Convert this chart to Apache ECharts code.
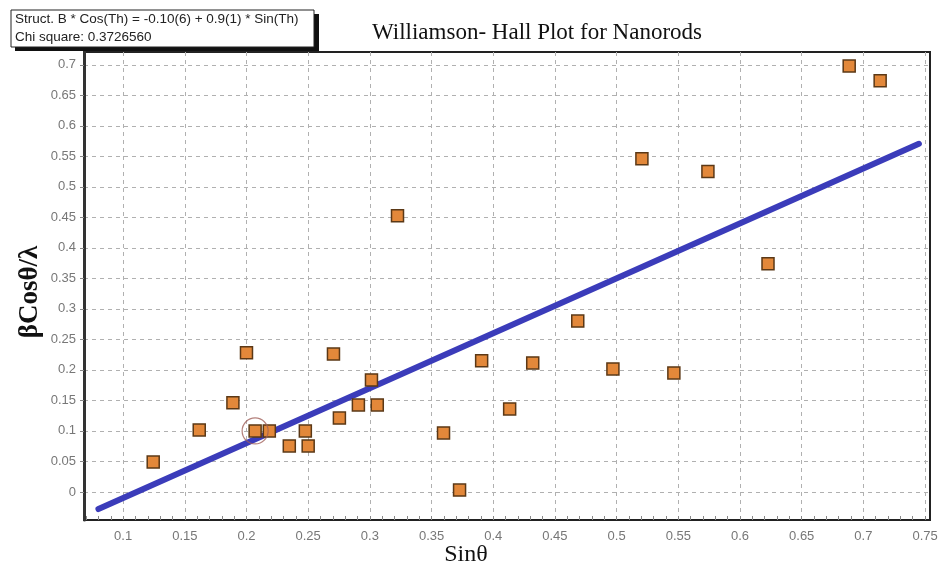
<!DOCTYPE html>
<html>
<head>
<meta charset="utf-8">
<script src="https://cdn.jsdelivr.net/npm/echarts@6/dist/echarts.min.js"></script>
<style>
  html, body { margin: 0; padding: 0; background: #fff; }
  #chart { width: 940px; height: 573px; }
</style>
</head>
<body>
<div id="chart"></div>
<script>
// Measured peaks: sin(theta) and beta*cos(theta)/lambda
const sinTheta = [0.1244, 0.1617, 0.189, 0.2, 0.207, 0.2185, 0.2347, 0.2477, 0.250, 0.2705,
                  0.2753, 0.2907, 0.3013, 0.306, 0.3224, 0.3597, 0.3727, 0.3906, 0.4133, 0.432,
                  0.4685, 0.497, 0.5205, 0.5464, 0.574, 0.6227, 0.6885, 0.7136];
const betaCos = [0.049, 0.1016, 0.146, 0.228, 0.10, 0.10, 0.0754, 0.10, 0.0754, 0.226,
                 0.121, 0.1426, 0.1836, 0.1426, 0.4525, 0.0967, 0.003, 0.2148, 0.136, 0.2115,
                 0.280, 0.2016, 0.546, 0.195, 0.525, 0.374, 0.698, 0.674];
// Highlighted (selected) point
const selX = [0.207];
const selY = [0.10];
// Linear fit endpoints
const fitX = [0.08, 0.745];
const fitY = [-0.028, 0.5705];
// Axis ticks
const xTicks = [0.1, 0.15, 0.2, 0.25, 0.3, 0.35, 0.4, 0.45, 0.5, 0.55, 0.6, 0.65, 0.7, 0.75];
const yTicks = [0, 0.05, 0.1, 0.15, 0.2, 0.25, 0.3, 0.35, 0.4, 0.45, 0.5, 0.55, 0.6, 0.65, 0.7];
const xMinor = [0.07, 0.08, 0.09, 0.1, 0.11, 0.12, 0.13, 0.14, 0.15, 0.16, 0.17, 0.18, 0.19, 0.2,
                0.21, 0.22, 0.23, 0.24, 0.25, 0.26, 0.27, 0.28, 0.29, 0.3, 0.31, 0.32, 0.33, 0.34,
                0.35, 0.36, 0.37, 0.38, 0.39, 0.4, 0.41, 0.42, 0.43, 0.44, 0.45, 0.46, 0.47, 0.48,
                0.49, 0.5, 0.51, 0.52, 0.53, 0.54, 0.55, 0.56, 0.57, 0.58, 0.59, 0.6, 0.61, 0.62,
                0.63, 0.64, 0.65, 0.66, 0.67, 0.68, 0.69, 0.7, 0.71, 0.72, 0.73, 0.74, 0.75];
const xRange = [0.0683, 0.754];
const yRange = [-0.046, 0.721];

const titleText = 'Williamson- Hall Plot for Nanorods';
const xName = 'Sinθ';
const yName = 'βCosθ/λ';
const fitLine1 = 'Struct. B * Cos(Th) = -0.10(6) + 0.9(1) * Sin(Th)';
const fitLine2 = 'Chi square: 0.3726560';

const points = sinTheta.map((x, i) => [x, betaCos[i]]);
const selected = selX.map((x, i) => [x, selY[i]]);
const fit = fitX.map((x, i) => [x, fitY[i]]);

const fmt = v => String(Math.round(v * 1000) / 1000);

const chart = echarts.init(document.getElementById('chart'), null, { renderer: 'canvas' });
chart.setOption({
  backgroundColor: '#ffffff',
  animation: false,
  title: {
    text: titleText,
    left: 532, top: 16, textAlign: 'center',
    textStyle: { fontFamily: 'Liberation Serif', fontSize: 23, fontWeight: 'normal', color: '#111' }
  },
  grid: {
    left: 84, right: 10, top: 52, bottom: 53,
    outerBoundsMode: 'none',
    show: true, borderColor: '#222', borderWidth: 2, backgroundColor: 'transparent'
  },
  xAxis: [{
    type: 'value', min: xRange[0], max: xRange[1],
    axisLine: { show: false },
    axisTick: { show: false, customValues: xTicks },
    axisLabel: {
      customValues: xTicks, margin: 10, formatter: fmt,
      fontFamily: 'Liberation Sans', fontSize: 13, color: '#777'
    },
    splitLine: { show: true, lineStyle: { color: '#b0b0b0', type: [4, 4], width: 1 } }
  }, {
    type: 'value', min: xRange[0], max: xRange[1], position: 'bottom',
    axisLine: { show: false },
    axisTick: { show: true, inside: true, length: 4, customValues: xMinor, lineStyle: { color: '#888' } },
    axisLabel: { show: false },
    splitLine: { show: false }
  }],
  yAxis: [{
    type: 'value', min: yRange[0], max: yRange[1],
    axisLine: { show: true, lineStyle: { color: '#333', width: 3 } },
    axisTick: { show: true, inside: false, length: 4, customValues: yTicks, lineStyle: { color: '#888' } },
    axisLabel: {
      customValues: yTicks, margin: 8, formatter: fmt,
      fontFamily: 'Liberation Sans', fontSize: 13, color: '#777'
    },
    splitLine: { show: true, lineStyle: { color: '#b0b0b0', type: [4, 4], width: 1 } }
  }],
  series: [{
    type: 'line', data: fit, xAxisIndex: 0, yAxisIndex: 0,
    showSymbol: false, symbol: 'none', clip: false,
    lineStyle: { color: '#3b3cba', width: 6, cap: 'round' }, z: 3
  }, {
    type: 'scatter', data: points, xAxisIndex: 0, yAxisIndex: 0,
    symbol: 'rect', symbolSize: 12,
    itemStyle: { color: '#e3883a', borderColor: '#5b3816', borderWidth: 1.5, opacity: 1 }, z: 4
  }, {
    type: 'scatter', data: selected, xAxisIndex: 0, yAxisIndex: 0,
    symbol: 'circle', symbolSize: 26,
    itemStyle: { color: 'transparent', borderColor: '#a0605a', borderWidth: 1.2 }, z: 5
  }],
  graphic: [{
    type: 'text', x: 466, y: 555, z: 12,
    style: { text: xName, fontFamily: 'Liberation Serif', fontSize: 24, fill: '#111', align: 'center', verticalAlign: 'middle' }
  }, {
    type: 'text', x: 30, y: 292, rotation: Math.PI / 2, z: 12,
    style: { text: yName, fontFamily: 'Liberation Serif', fontSize: 27, fontWeight: 'bold', fill: '#111', align: 'center', verticalAlign: 'middle' }
  }, {
    type: 'rect', shape: { x: 15, y: 14, width: 304, height: 37 },
    style: { fill: '#111' }, z: 10
  }, {
    type: 'rect', shape: { x: 11, y: 10, width: 303, height: 37 },
    style: { fill: '#fff', stroke: '#222', lineWidth: 1 }, z: 11
  }, {
    type: 'text', x: 15, y: 12, z: 12,
    style: { text: fitLine1, fontFamily: 'Liberation Sans', fontSize: 13.5, fill: '#222' }
  }, {
    type: 'text', x: 15, y: 30, z: 12,
    style: { text: fitLine2, fontFamily: 'Liberation Sans', fontSize: 13.5, fill: '#222' }
  }]
});
</script>
</body>
</html>
